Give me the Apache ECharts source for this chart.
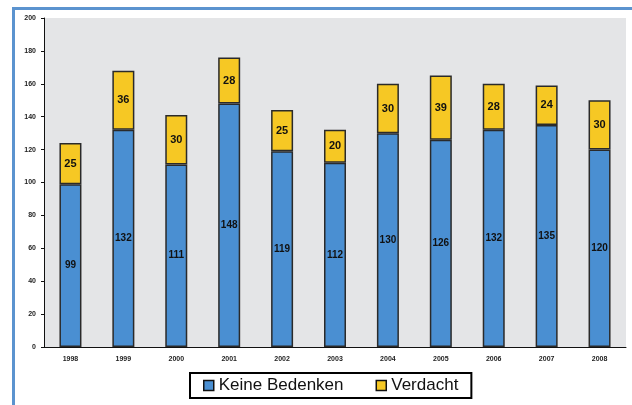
<!DOCTYPE html>
<html>
<head>
<meta charset="utf-8">
<script src="https://cdn.jsdelivr.net/npm/echarts@6/dist/echarts.min.js"></script>
<style>
html, body { margin: 0; padding: 0; background: #fff; }
#frame { position: absolute; left: 12px; top: 7px; width: 640px; height: 420px;
  border-top: 3px solid #5b93cf; border-left: 3px solid #5b93cf; }
#main { position: absolute; left: 0; top: 0; width: 632px; height: 405px; }
</style>
</head>
<body>
<div id="frame"></div>
<div id="main"></div>
<script>
var years = ['1998', '1999', '2000', '2001', '2002', '2003', '2004', '2005', '2006', '2007', '2008'];
var keineBedenken = [99, 132, 111, 148, 119, 112, 130, 126, 132, 135, 120];
var verdacht = [25, 36, 30, 28, 25, 20, 30, 39, 28, 24, 30];

var myChart = echarts.init(document.getElementById('main'));

function barLabel(size) {
    return {
        show: true,
        position: 'inside',
        color: '#111',
        fontFamily: 'Liberation Sans',
        fontWeight: 'bold',
        fontSize: size
    };
}

var option = {
    animation: false,
    grid: {
        left: 44,
        right: 6,
        top: 18,
        bottom: 58,
        show: true,
        backgroundColor: '#e4e5e7',
        borderWidth: 0
    },
    xAxis: {
        type: 'category',
        data: years,
        axisLine: { lineStyle: { color: '#111', width: 1 } },
        axisTick: { length: 3, lineStyle: { color: '#111' } },
        axisLabel: {
            color: '#222',
            fontFamily: 'Liberation Sans',
            fontWeight: 'bold',
            fontSize: 7,
            margin: 9
        }
    },
    yAxis: {
        type: 'value',
        min: 0,
        max: 200,
        interval: 20,
        splitLine: { show: false },
        axisLine: { show: true, lineStyle: { color: '#111', width: 1 } },
        axisTick: { show: true, length: 3, lineStyle: { color: '#111' } },
        axisLabel: {
            color: '#222',
            fontFamily: 'Liberation Sans',
            fontWeight: 'bold',
            fontSize: 7,
            margin: 8
        }
    },
    legend: {
        bottom: 7,
        left: 190,
        orient: 'horizontal',
        itemWidth: 10,
        itemHeight: 10,
        itemGap: 32,
        padding: [4, 13, 4, 13],
        borderColor: '#000',
        borderWidth: 2,
        icon: 'rect',
        textStyle: {
            fontFamily: 'Liberation Sans',
            fontSize: 17,
            color: '#111'
        },
        data: [
            { name: 'Keine Bedenken', itemStyle: { color: '#4a8fd2', borderColor: '#111', borderWidth: 1.5 } },
            { name: 'Verdacht', itemStyle: { color: '#f6c824', borderColor: '#111', borderWidth: 1.5 } }
        ]
    },
    series: [
        {
            name: 'Keine Bedenken',
            type: 'bar',
            stack: 'total',
            barWidth: 22,
            data: keineBedenken,
            itemStyle: { color: '#4a8fd2', borderColor: '#2a2a2a', borderWidth: 1.5 },
            label: barLabel(10)
        },
        {
            name: 'Verdacht',
            type: 'bar',
            stack: 'total',
            barWidth: 22,
            data: verdacht,
            itemStyle: { color: '#f6c824', borderColor: '#2a2a2a', borderWidth: 1.5 },
            label: barLabel(11)
        }
    ]
};

myChart.setOption(option);
</script>
</body>
</html>
